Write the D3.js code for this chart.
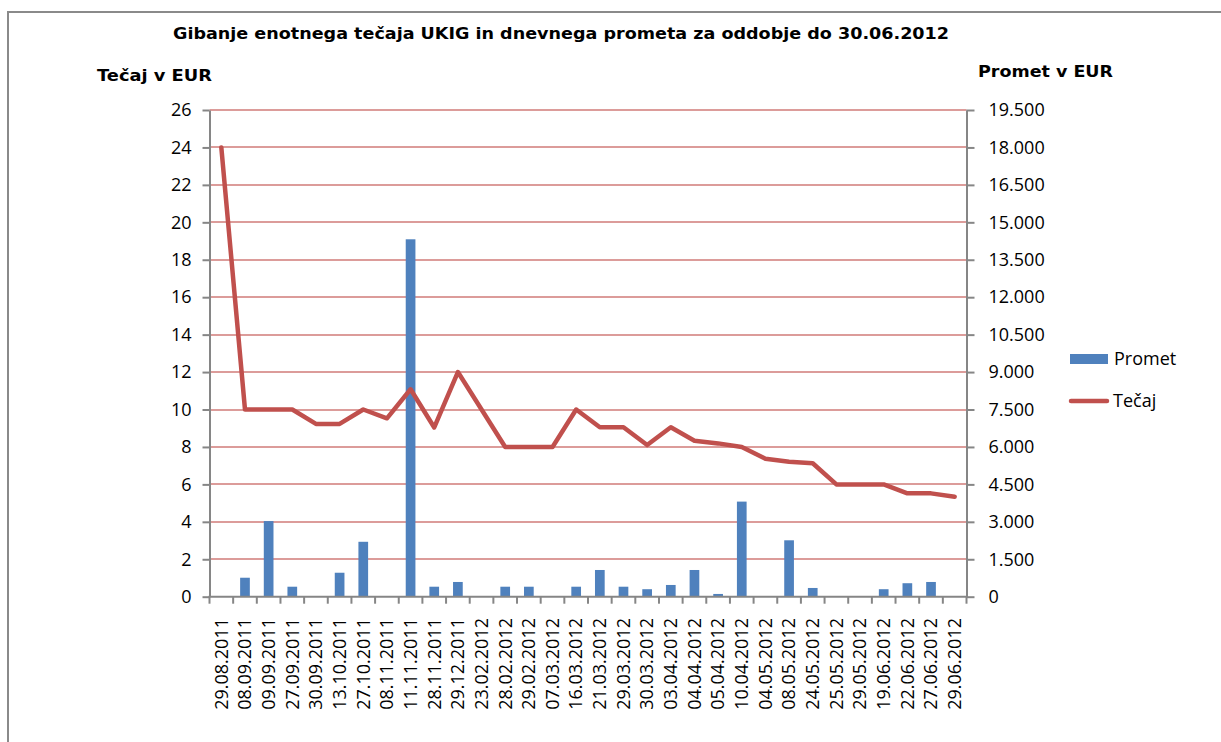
<!DOCTYPE html>
<html><head><meta charset="utf-8">
<script src="https://cdn.jsdelivr.net/npm/d3@7"></script>
<style>
body{margin:0;background:#fff;}
svg{display:block;}
</style></head>
<body>
<svg id="c" width="1221" height="742"></svg>
<script>
const categories = ["29.08.2011","08.09.2011","09.09.2011","27.09.2011","30.09.2011","13.10.2011","27.10.2011","08.11.2011","11.11.2011","28.11.2011","29.12.2011","23.02.2012","28.02.2012","29.02.2012","07.03.2012","16.03.2012","21.03.2012","29.03.2012","30.03.2012","03.04.2012","04.04.2012","05.04.2012","10.04.2012","04.05.2012","08.05.2012","24.05.2012","25.05.2012","29.05.2012","19.06.2012","22.06.2012","27.06.2012","29.06.2012"];
const promet = [0,760,3030,400,0,960,2200,0,14320,400,590,0,400,400,0,400,1070,400,300,470,1070,110,3810,0,2260,350,0,0,300,540,590,0];
const tecaj = [24,10,10,10,9.23,9.23,10,9.53,11.08,9.04,12,10,8,8,8,10,9.05,9.05,8.1,9.05,8.33,8.19,8,7.37,7.21,7.13,6,6,6,5.52,5.52,5.34];
const leftTicks = d3.range(0,27,2);
const rightTicks = d3.range(0,19501,1500);
const title = "Gibanje enotnega  tečaja UKIG in dnevnega prometa za oddobje  do 30.06.2012";

const svg = d3.select("#c");
const L = 209.5, R = 966.5, T = 110, B = 596.7;
const font = "'Open Sans', sans-serif";
const gray = "#868686";

// outer border
svg.append("path").attr("d","M8,745 V12 H1225").attr("fill","none").attr("stroke","#8a8a8a").attr("stroke-width",2);

const x = d3.scaleBand().domain(categories).range([L,R]).padding(0);
const yL = d3.scaleLinear().domain([0,26]).range([B,T]);
const yR = d3.scaleLinear().domain([0,19500]).range([B,T]);

// gridlines
svg.append("g").selectAll("line").data(leftTicks.filter(d=>d>0)).join("line")
  .attr("x1",L).attr("x2",R).attr("y1",d=>Math.round(yL(d))).attr("y2",d=>Math.round(yL(d)))
  .attr("stroke","#DC9C9A").attr("stroke-width",2.2);

// bars
const bw = x.bandwidth()*0.41;
svg.append("g").selectAll("rect").data(promet.map((v,i)=>({c:categories[i],v}))).join("rect")
  .attr("x",d=>x(d.c)+x.bandwidth()/2-bw/2).attr("width",bw)
  .attr("y",d=>yR(d.v)).attr("height",d=>B-yR(d.v))
  .attr("fill","#4F81BD");

// axes
function styleAxis(g){
  g.select(".domain").attr("stroke",gray).attr("stroke-width",2);
  g.selectAll(".tick line").attr("stroke",gray).attr("stroke-width",2);
  g.selectAll("text").attr("font-family",font).attr("font-size","18px").attr("fill","#000");
}
const axL = svg.append("g").attr("transform",`translate(${L},0)`)
  .call(d3.axisLeft(yL).tickValues(leftTicks).tickSize(7).tickPadding(11).tickSizeOuter(0).tickFormat(d3.format("d")));
styleAxis(axL);
const axR = svg.append("g").attr("transform",`translate(${R},0)`)
  .call(d3.axisRight(yR).tickValues(rightTicks).tickSize(8).tickPadding(14).tickSizeOuter(0).tickFormat(d=> d===0?"0": (Math.floor(d/1000))+"."+String(d%1000).padStart(3,"0")));
styleAxis(axR);

// x axis
const xg = svg.append("g");
xg.append("line").attr("x1",L-1).attr("x2",R+1).attr("y1",B).attr("y2",B).attr("stroke",gray).attr("stroke-width",2);
const bounds = categories.map(c=>x(c)).concat([R]);
xg.selectAll("line.t").data(bounds).join("line").attr("class","t")
  .attr("x1",d=>d).attr("x2",d=>d).attr("y1",B).attr("y2",B+7).attr("stroke",gray).attr("stroke-width",2);
xg.selectAll("text").data(categories).join("text")
  .attr("transform",d=>`translate(${x(d)+x.bandwidth()/2},618) rotate(-90)`)
  .attr("text-anchor","end").attr("dy","0.35em")
  .attr("font-family",font).attr("font-size","18px").attr("fill","#000")
  .text(d=>d);

// line
const line = d3.line().x((d,i)=>x(categories[i])+x.bandwidth()/2).y(d=>yL(d));
svg.append("path").datum(tecaj).attr("d",line).attr("fill","none")
  .attr("stroke","#C0504D").attr("stroke-width",4.5).attr("stroke-linejoin","round").attr("stroke-linecap","round");

// titles
svg.append("text").attr("x",561).attr("y",39).attr("text-anchor","middle")
  .attr("font-family","'DejaVu Sans', sans-serif").attr("font-weight","bold").attr("font-size","16px")
  .attr("textLength",776).attr("lengthAdjust","spacingAndGlyphs").text(title);
svg.append("text").attr("x",97).attr("y",81)
  .attr("font-family","'DejaVu Sans', sans-serif").attr("font-weight","bold").attr("font-size","16px")
  .attr("textLength",115).attr("lengthAdjust","spacingAndGlyphs").text("Tečaj v EUR");
svg.append("text").attr("x",978).attr("y",77)
  .attr("font-family","'DejaVu Sans', sans-serif").attr("font-weight","bold").attr("font-size","16px")
  .attr("textLength",135).attr("lengthAdjust","spacingAndGlyphs").text("Promet v EUR");

// legend
const lg = svg.append("g");
lg.append("rect").attr("x",1070).attr("y",354).attr("width",38).attr("height",10).attr("fill","#4F81BD");
lg.append("text").attr("x",1114).attr("y",359).attr("dy","0.35em").attr("font-family",font).attr("font-size","18px").text("Promet");
lg.append("line").attr("x1",1071).attr("x2",1107).attr("y1",401).attr("y2",401).attr("stroke","#C0504D").attr("stroke-width",4.5).attr("stroke-linecap","round");
lg.append("text").attr("x",1113).attr("y",401).attr("dy","0.35em").attr("font-family",font).attr("font-size","18px").text("Tečaj");
</script>
</body></html>
